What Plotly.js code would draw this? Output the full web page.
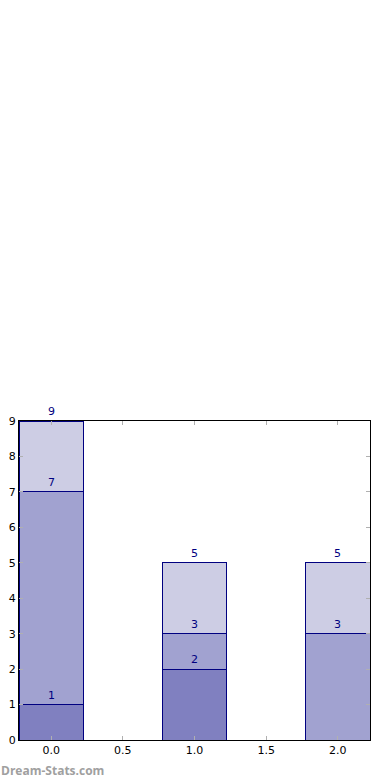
<!DOCTYPE html>
<html>
<head>
<meta charset="utf-8">
<script src="https://cdn.plot.ly/plotly-3.0.1.min.js"></script>
<style>
html,body{margin:0;padding:0;background:#fff;}
#chart{width:390px;height:780px;}
</style>
</head>
<body>
<div id="chart"></div>
<script>
var positions = [0, 1, 2];
var layer1 = [1, 2, 0];
var layer2 = [6, 1, 3];
var layer3 = [2, 2, 2];
var layers = [layer1, layer2, layer3];
var fills = ['rgb(128,128,192)', 'rgb(161,162,208)', 'rgb(205,205,228)'];

var traces = layers.map(function (vals, i) {
  return {
    type: 'bar',
    x: positions,
    y: vals,
    width: 0.45,
    marker: {color: fills[i], line: {color: '#000080', width: 1}},
    hoverinfo: 'none'
  };
});

var annotations = [];
var cum = positions.map(function () { return 0; });
layers.forEach(function (vals) {
  vals.forEach(function (v, j) {
    cum[j] += v;
    if (v > 0) {
      annotations.push({
        x: positions[j], y: cum[j], xref: 'x', yref: 'y',
        text: String(cum[j]), showarrow: false,
        yanchor: 'bottom', yshift: 1,
        font: {family: 'DejaVu Sans', size: 11, color: '#000080'}
      });
    }
  });
});
annotations.push({
  xref: 'paper', yref: 'paper', x: -20/351, y: -30/319, xanchor: 'left', yanchor: 'middle',
  text: 'Dream-Stats.com', showarrow: false,
  font: {family: 'Open Sans', size: 12, color: '#a0a0a0', weight: 'bold'}
});

var layout = {
  width: 390, height: 780,
  margin: {l: 19, r: 20, t: 421, b: 40},
  paper_bgcolor: '#fff', plot_bgcolor: '#fff',
  barmode: 'stack',
  showlegend: false,
  xaxis: {
    range: [-0.225, 2.225], dtick: 0.5, tick0: 0, tickformat: '.1f',
    showgrid: false, zeroline: false,
    showline: true, linecolor: '#000', linewidth: 1, mirror: 'allticks',
    ticks: 'inside', ticklen: 4, tickcolor: '#b0b0b0', tickwidth: 1,
    tickfont: {family: 'DejaVu Sans', size: 11, color: '#000'}
  },
  yaxis: {
    range: [0, 9], dtick: 1, tick0: 0,
    showgrid: false, zeroline: false,
    showline: true, linecolor: '#000', linewidth: 1, mirror: 'allticks',
    ticks: 'inside', ticklen: 4, tickcolor: '#b0b0b0', tickwidth: 1,
    tickfont: {family: 'DejaVu Sans', size: 11, color: '#000'}
  },
  annotations: annotations
};

Plotly.newPlot('chart', traces, layout, {staticPlot: true, displayModeBar: false});
</script>
</body>
</html>
